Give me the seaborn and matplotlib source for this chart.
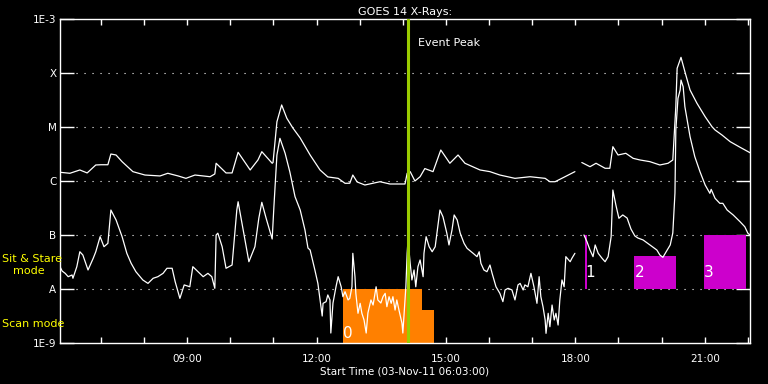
import matplotlib
matplotlib.use("Agg")
import numpy as np
import pandas as pd
import matplotlib.pyplot as plt
import seaborn as sns
from matplotlib.ticker import NullLocator

# GOES 14 X-ray flux, 03-Nov-2011 -- time in hours of day, flux in W/m^2
# NaN marks a data gap
long_time = [6.05, 6.28, 6.51, 6.68, 6.88, 7.00, 7.16, 7.23, 7.35, 7.49, 7.74, 8.02,
             8.37, 8.55, 8.79, 8.97, 9.18, 9.53, 9.64, 9.67, 9.90, 10.04, 10.18, 10.46,
             10.64, 10.73, 10.97, 10.99, 11.08, 11.19, 11.31, 11.45, 11.62, 11.85, 12.08,
             12.26, 12.43, 12.50, 12.66, 12.77, 12.84, 12.94, 13.12, 13.47, 13.70, 14.05,
             14.10, 14.17, 14.28, 14.40, 14.51, 14.70, 14.88, 15.09, 15.28, 15.44, 15.79,
             16.02, 16.25, 16.60, 16.95, 17.30, 17.41, 17.53, 17.76, 17.99, 18.07,
             18.15, 18.34, 18.48, 18.69, 18.80, 18.87, 18.99, 19.17, 19.34, 19.50, 19.73,
             19.96, 20.15, 20.26, 20.33, 20.36, 20.45, 20.54, 20.66, 20.82, 21.01, 21.17,
             21.24, 21.40, 21.59, 21.82, 22.05]
long_flux = [1.45e-6, 1.39e-6, 1.6e-6, 1.41e-6, 1.98e-6, 2.0e-6, 2.0e-6, 3.16e-6, 3.03e-6,
             2.28e-6, 1.49e-6, 1.29e-6, 1.24e-6, 1.39e-6, 1.24e-6, 1.12e-6, 1.29e-6, 1.2e-6,
             1.35e-6, 2.13e-6, 1.41e-6, 1.41e-6, 3.4e-6, 1.6e-6, 2.45e-6, 3.49e-6, 2.13e-6,
             2.2e-6, 1.25e-5, 2.56e-5, 1.45e-5, 9.58e-6, 6.25e-6, 3.03e-6, 1.6e-6, 1.19e-6,
             1.14e-6, 1.12e-6, 9.06e-7, 9.1e-7, 1.29e-6, 9.6e-7, 8.43e-7, 9.7e-7, 8.8e-7,
             8.8e-7, 1.39e-6, 1.49e-6, 1.0e-6, 1.2e-6, 1.7e-6, 1.49e-6, 3.75e-6, 2.13e-6,
             3.03e-6, 2.13e-6, 1.6e-6, 1.49e-6, 1.29e-6, 1.12e-6, 1.2e-6, 1.12e-6, 9.7e-7,
             9.7e-7, 1.2e-6, 1.49e-6, np.nan,
             2.2e-6, 1.84e-6, 2.13e-6, 1.72e-6, 1.72e-6, 4.32e-6, 3.03e-6, 3.26e-6, 2.63e-6,
             2.45e-6, 2.28e-6, 1.98e-6, 2.13e-6, 2.45e-6, 2.38e-5, 1.22e-4, 1.95e-4, 1.06e-4,
             4.84e-5, 2.75e-5, 1.55e-5, 1.01e-5, 8.8e-6, 7.11e-6, 5.35e-6, 4.21e-6, 3.34e-6]

short_time = [6.05, 6.10, 6.17, 6.24, 6.33, 6.35, 6.44, 6.51, 6.58, 6.70, 6.82, 6.88, 6.98,
              7.07, 7.16, 7.23, 7.35, 7.49, 7.60, 7.70, 7.81, 7.97, 8.09, 8.21, 8.32, 8.44,
              8.53, 8.65, 8.72, 8.83, 8.93, 9.06, 9.13, 9.25, 9.37, 9.48, 9.57, 9.64, 9.67,
              9.71, 9.81, 9.90, 10.04, 10.15, 10.18, 10.29, 10.43, 10.57, 10.66, 10.73, 10.83,
              10.97, 11.01, 11.08, 11.15, 11.27, 11.38, 11.50, 11.62, 11.73, 11.80, 11.85,
              11.96, 12.03, 12.08, 12.13, 12.15, 12.22, 12.26, 12.31, 12.33, 12.38, 12.45,
              12.50, 12.57, 12.61, 12.66, 12.73, 12.77, 12.82, 12.84, 12.89, 12.91, 12.96,
              13.01, 13.05, 13.10, 13.15, 13.19, 13.26, 13.31, 13.38, 13.42, 13.49, 13.54,
              13.59, 13.63, 13.68, 13.73, 13.77, 13.82, 13.86, 13.91, 13.98, 14.00, 14.03,
              14.07, 14.10, 14.12, 14.17, 14.21, 14.26, 14.30, 14.35, 14.40, 14.47, 14.49,
              14.54, 14.61, 14.68, 14.75, 14.86, 14.93, 15.02, 15.07, 15.14, 15.19, 15.26,
              15.33, 15.42, 15.49, 15.63, 15.72, 15.77, 15.81, 15.88, 15.95, 16.02, 16.07,
              16.16, 16.25, 16.32, 16.37, 16.44, 16.53, 16.60, 16.67, 16.72, 16.79, 16.83,
              16.90, 16.97, 17.04, 17.11, 17.16, 17.20, 17.25, 17.30, 17.32, 17.37, 17.41,
              17.46, 17.51, 17.55, 17.60, 17.64, 17.69, 17.74, 17.78, 17.88, 17.92, 17.99,
              18.10,
              18.20, 18.27, 18.34, 18.41, 18.46, 18.53, 18.62, 18.69, 18.76, 18.83, 18.87,
              18.94, 19.01, 19.10, 19.20, 19.29, 19.38, 19.45, 19.57, 19.73, 19.89, 19.96,
              20.03, 20.13, 20.20, 20.26, 20.31, 20.33, 20.38, 20.43, 20.45, 20.50, 20.54,
              20.66, 20.77, 20.89, 21.01, 21.12, 21.15, 21.24, 21.35, 21.42, 21.52, 21.66,
              21.82, 21.93, 22.00, 22.05]
short_flux = [2.59e-8, 2.15e-8, 1.95e-8, 1.69e-8, 1.82e-8, 1.58e-8, 2.59e-8, 4.9e-8, 4.26e-8,
              2.25e-8, 3.7e-8, 4.9e-8, 9.3e-8, 6.07e-8, 7.0e-8, 2.9e-7, 1.9e-7, 9.3e-8,
              4.58e-8, 2.99e-8, 2.09e-8, 1.47e-8, 1.27e-8, 1.58e-8, 1.69e-8, 1.95e-8, 2.42e-8,
              2.42e-8, 1.37e-8, 6.71e-9, 1.19e-8, 1.10e-8, 2.59e-8, 2.09e-8, 1.69e-8, 1.95e-8,
              1.69e-8, 1.03e-8, 1.0e-7, 1.08e-7, 6.07e-8, 2.42e-8, 2.78e-8, 2.9e-7, 4.13e-7,
              1.33e-7, 3.2e-8, 6.07e-8, 2.04e-7, 4.03e-7, 2.04e-7, 8.43e-8, 3.34e-7, 3.03e-6,
              6.17e-6, 3.26e-6, 1.47e-6, 5.12e-7, 2.9e-7, 1.24e-7, 5.74e-8, 5.27e-8, 2.25e-8,
              1.27e-8, 6.27e-9, 3.16e-9, 5.43e-9, 5.83e-9, 7.76e-9, 6.27e-9, 1.53e-9, 5.5e-9,
              1.10e-8, 1.69e-8, 1.10e-8, 7.2e-9, 8.9e-9, 6.27e-9, 6.71e-9, 1.10e-8, 4.58e-8,
              1.69e-8, 8.3e-9, 3.55e-9, 5.43e-9, 3.55e-9, 2.67e-9, 1.53e-9, 3.6e-9, 6.27e-9,
              5.05e-9, 1.10e-8, 6.27e-9, 5.5e-9, 7.2e-9, 8.3e-9, 4.7e-9, 7.2e-9, 5.43e-9,
              7.2e-9, 4.08e-9, 6.27e-9, 4.08e-9, 2.32e-9, 1.53e-9, 3.6e-9, 1.10e-8, 4.58e-8,
              8.1e-8, 2.99e-8, 1.47e-8, 2.25e-8, 1.10e-8, 2.59e-8, 3.45e-8, 1.69e-8, 4.58e-8,
              9.3e-8, 6.07e-8, 4.9e-8, 6.07e-8, 2.9e-7, 2.18e-7, 1.08e-7, 6.54e-8, 1.24e-7,
              2.35e-7, 1.9e-7, 1.08e-7, 7.0e-8, 5.66e-8, 4.58e-8, 3.97e-8, 4.9e-8, 2.99e-8,
              2.25e-8, 2.09e-8, 2.78e-8, 1.95e-8, 1.10e-8, 8.3e-9, 5.83e-9, 9.6e-9, 1.03e-8,
              9.6e-9, 6.27e-9, 1.19e-8, 1.27e-8, 9.6e-9, 1.19e-8, 1.10e-8, 1.95e-8, 1.10e-8,
              5.43e-9, 1.69e-8, 7.2e-9, 4.7e-9, 2.67e-9, 1.51e-9, 3.55e-9, 2.0e-9, 5.05e-9,
              2.67e-9, 3.55e-9, 2.15e-9, 6.27e-9, 1.47e-8, 1.10e-8, 3.97e-8, 3.2e-8, 3.7e-8,
              4.58e-8,
              np.nan,
              1.0e-7, 7.5e-8, 5.27e-8, 3.97e-8, 6.54e-8, 4.58e-8, 3.7e-8, 3.2e-8, 3.97e-8,
              9.3e-8, 6.81e-7, 3.59e-7, 2.04e-7, 2.35e-7, 2.06e-7, 1.29e-7, 9.6e-8, 8.8e-8,
              8.1e-8, 6.54e-8, 5.27e-8, 4.26e-8, 3.86e-8, 5.27e-8, 6.54e-8, 1.09e-7, 6.0e-7,
              8.8e-6, 3.4e-5, 4.84e-5, 7.4e-5, 5.57e-5, 2.38e-5, 6.61e-6, 2.82e-6, 1.49e-6,
              8.43e-7, 5.91e-7, 7.0e-7, 4.78e-7, 3.86e-7, 3.86e-7, 2.9e-7, 2.35e-7, 1.76e-7,
              1.42e-7, 1.08e-7, 1.0e-7]

event_peak = 14.13

# observing program blocks
scan_start = [12.61, 14.44]
scan_end = [14.44, 14.72]
scan_top = [1e-8, 4e-9]
scan_labels = ["0"]
sit_start = [18.22, 19.36, 20.98]
sit_end = [18.26, 20.33, 21.95]
sit_top = [1e-7, 4e-8, 1e-7]
sit_labels = ["1", "2", "3"]

level_values = [1e-9, 1e-8, 1e-7, 1e-6, 1e-5, 1e-4, 1e-3]
level_labels = ["1E-9", "A", "B", "C", "M", "X", "1E-3"]
label_hours = [9, 12, 15, 18, 21]
t_start, t_end = 6.05, 22.05


def channel_frame(times, fluxes, name):
    df = pd.DataFrame({"time": times, "flux": fluxes})
    df["piece"] = name + df["flux"].isna().cumsum().astype(str)
    return df.dropna()


curves = pd.concat([channel_frame(long_time, long_flux, "long"),
                    channel_frame(short_time, short_flux, "short")])

sns.set_theme(style="ticks", rc={
    "figure.facecolor": "black", "axes.facecolor": "black",
    "axes.edgecolor": "white", "axes.linewidth": 1.0,
    "xtick.color": "white", "ytick.color": "white",
    "text.color": "white", "axes.labelcolor": "white",
})
plt.rcParams["font.family"] = ["DejaVu Sans"]

fig = plt.figure(figsize=(7.68, 3.84), dpi=100)
ax = fig.add_axes([60 / 768, 41 / 384, 690 / 768, 324 / 384])
ax.set_yscale("log")

# class level guides
for lv in level_values[1:-1]:
    ax.axhline(lv, color="white", lw=0.8, ls=(0, (1, 6.2)), zorder=0.5)

# observation blocks
ax.bar(scan_start, np.subtract(scan_top, 1e-9), width=np.subtract(scan_end, scan_start),
       bottom=1e-9, align="edge", color="#ff8000", linewidth=0, zorder=1)
ax.bar(sit_start, np.subtract(sit_top, 1e-8), width=np.subtract(sit_end, sit_start),
       bottom=1e-8, align="edge", color="#cc00cc", linewidth=0, zorder=1)

sns.lineplot(data=curves, x="time", y="flux", units="piece", estimator=None,
             sort=False, color="white", lw=0.9, ax=ax, zorder=2)

ax.axvline(event_peak, color="#9acc00", lw=2.2, zorder=3)
ax.annotate("Event Peak", xy=(event_peak, 0.926), xycoords=("data", "axes fraction"),
            xytext=(7, 0), textcoords="offset points", va="center", fontsize=8)

for lab, st in zip(scan_labels, scan_start):
    ax.annotate(lab, xy=(st, 1e-9), xytext=(3.8, 7.2), textcoords="offset points",
                ha="center", va="center", fontsize=11, color="white", zorder=4)
for lab, st in zip(sit_labels, sit_start):
    ax.annotate(lab, xy=(st, 1e-8), xytext=(3.8, 12.2), textcoords="offset points",
                ha="center", va="center", fontsize=11, color="white", zorder=4)

ax.set_xlim(t_start, t_end)
ax.set_ylim(level_values[0], level_values[-1])
ax.set_yticks(level_values, level_labels)
ax.yaxis.set_minor_locator(NullLocator())
ax.set_xticks(label_hours, [f"{h:02d}:00" for h in label_hours])
ax.set_xticks([h for h in range(7, 23) if h not in label_hours], minor=True)
ax.tick_params(axis="y", which="major", direction="in", length=10, width=1,
               left=True, right=True, labelsize=7.5, pad=2.5)
ax.tick_params(axis="x", which="both", direction="in", length=4.3, width=1,
               top=True, bottom=True, labelsize=7.5, pad=8)
for s in ax.spines.values():
    s.set_color("white")

ax.set_ylabel("")
ax.set_xlabel("Start Time (03-Nov-11 06:03:00)", fontsize=7.5)
ax.xaxis.set_label_coords(0.5, -0.074)
ax.set_title("GOES 14 X-Rays:", fontsize=8, pad=3)

fig.text(2 / 768, 1 - 259 / 384, "Sit & Stare", color="yellow", fontsize=8,
         ha="left", va="center")
fig.text(12.7 / 768, 1 - 271 / 384, "mode", color="yellow", fontsize=8,
         ha="left", va="center")
fig.text(2 / 768, 1 - 324 / 384, "Scan mode", color="yellow", fontsize=8,
         ha="left", va="center")

fig.savefig("out.png", dpi=100, facecolor="black")
plt.close(fig)
